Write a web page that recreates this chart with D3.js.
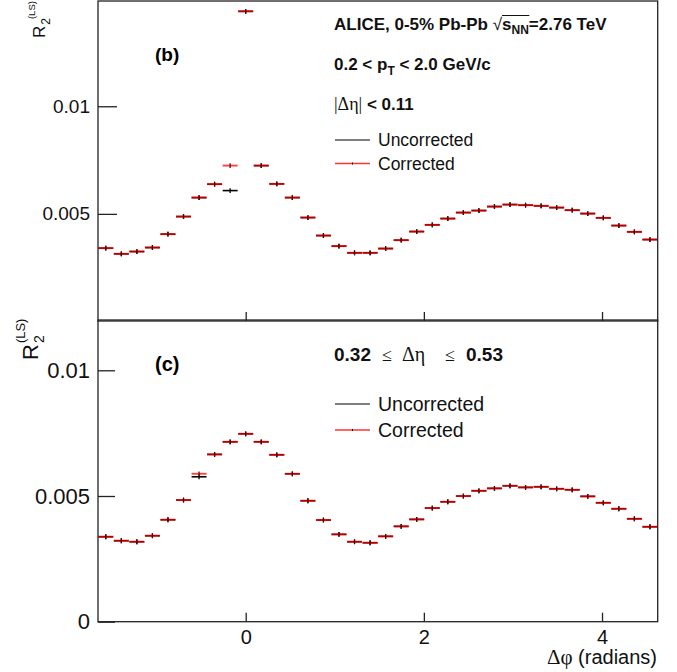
<!DOCTYPE html>
<html><head><meta charset="utf-8">
<script src="https://cdn.jsdelivr.net/npm/d3@7"></script>
<style>body{margin:0;background:#fff}svg{display:block}text{font-family:"Liberation Sans",Arial,sans-serif}</style>
</head><body><div id="c"></div>
<script>
// Δφ bin centres (radians)
const dphi = [-1.5708,-1.3963,-1.2217,-1.0472,-0.8727,-0.6981,-0.5236,-0.3491,-0.1745,0,
 0.1745,0.3491,0.5236,0.6981,0.8727,1.0472,1.2217,1.3963,1.5708,1.7453,1.9199,2.0944,
 2.2689,2.4435,2.6180,2.7925,2.9671,3.1416,3.3161,3.4907,3.6652,3.8397,4.0143,4.1888,4.3633,4.5379];
const binWidth = 0.1745;
// panel (b): |Δη| < 0.11
const bCorrected = [0.003408,0.003143,0.003250,0.003436,0.004058,0.004875,0.005757,0.006380,0.007243,0.014411,
 0.007243,0.006393,0.005757,0.004829,0.003993,0.003501,0.003190,0.003190,0.003389,0.003779,0.004179,0.004490,
 0.004782,0.005061,0.005154,0.005340,0.005432,0.005404,0.005372,0.005293,0.005172,0.005014,0.004815,0.004457,0.004165,0.003807];
const bUncorrected = [0.003408,0.003143,0.003250,0.003436,0.004058,0.004875,0.005757,0.006380,0.006082,0.014411,
 0.007243,0.006393,0.005757,0.004829,0.003993,0.003501,0.003190,0.003190,0.003389,0.003779,0.004179,0.004490,
 0.004782,0.005061,0.005154,0.005340,0.005432,0.005404,0.005372,0.005293,0.005172,0.005014,0.004815,0.004457,0.004165,0.003807];
// panel (c): 0.32 ≤ Δη ≤ 0.53
const cCorrected = [0.003379,0.003220,0.003180,0.003419,0.004055,0.004838,0.005883,0.006654,0.007155,0.007473,
 0.007155,0.006638,0.005883,0.004810,0.004043,0.003474,0.003180,0.003140,0.003395,0.003792,0.004070,0.004520,
 0.004770,0.004997,0.005207,0.005303,0.005406,0.005342,0.005366,0.005287,0.005247,0.004985,0.004730,0.004492,0.004094,0.003776];
const cUncorrected = [0.003379,0.003220,0.003180,0.003419,0.004055,0.004838,0.005764,0.006654,0.007155,0.007473,
 0.007155,0.006638,0.005883,0.004810,0.004043,0.003474,0.003180,0.003140,0.003395,0.003792,0.004070,0.004520,
 0.004770,0.004997,0.005207,0.005303,0.005406,0.005342,0.005366,0.005287,0.005247,0.004985,0.004730,0.004492,0.004094,0.003776];
const xTicks = [0,2,4];
const bYTicks = [0.005,0.01];
const cYTicks = [0,0.005,0.01];
const xDomain = [-1.658,4.625];
const bYDomain = [0,0.01489];
const cYDomain = [0,0.012];
const legendLabels = ["Uncorrected","Corrected"];

const W=677,H=672;
const svg=d3.select("#c").append("svg").attr("width",W).attr("height",H);
svg.append("rect").attr("width",W).attr("height",H).attr("fill","#fff");
const L=98,R=657.7;
const x=d3.scaleLinear().domain(xDomain).range([L,R]);
const yb=d3.scaleLinear().domain(bYDomain).range([321.5,1]);
const yc=d3.scaleLinear().domain(cYDomain).range([621.7,320]);
const serif='"Liberation Serif","Times New Roman",serif';

function panel(y, top, bottom, corr, unc, yticks, ytick, yfont, xlabels){
  const g=svg.append("g");
  g.append("rect").attr("x",L).attr("y",top).attr("width",R-L).attr("height",bottom-top)
    .attr("fill","none").attr("stroke","#222").attr("stroke-width",1.3);
  const ya=g.append("g").attr("transform",`translate(${L},0)`)
    .call(d3.axisLeft(y).tickValues(yticks).tickSizeInner(-ytick).tickSizeOuter(0).tickPadding(8)
      .tickFormat(d=>d===0?"0":String(d)));
  ya.select(".domain").remove();
  ya.selectAll("line").attr("stroke","#222").attr("stroke-width",1.3);
  ya.selectAll("text").attr("font-size",yfont).attr("fill","#111").attr("font-family","Liberation Sans, Arial, sans-serif");
  const xa=g.append("g").attr("transform",`translate(0,${bottom})`)
    .call(d3.axisBottom(x).tickValues(xTicks).tickSizeInner(-9).tickSizeOuter(0).tickPadding(8)
      .tickFormat(xlabels?d3.format("d"):()=>""));
  xa.select(".domain").remove();
  xa.selectAll("line").attr("stroke","#222").attr("stroke-width",1.3);
  xa.selectAll("text").attr("font-size",20).attr("fill","#111").attr("font-family","Liberation Sans, Arial, sans-serif");
  const hw=(x(binWidth)-x(0))/2-0.3;
  const u=g.append("g");
  dphi.forEach((d,i)=>{
    u.append("line").attr("x1",x(d)-hw).attr("x2",x(d)+hw).attr("y1",y(unc[i])).attr("y2",y(unc[i]))
      .attr("stroke","#000").attr("stroke-width",1.6);
    u.append("line").attr("x1",x(d)).attr("x2",x(d)).attr("y1",y(unc[i])-2.4).attr("y2",y(unc[i])+2.4)
      .attr("stroke","#000").attr("stroke-width",1.3);
  });
  const c=g.append("g");
  dphi.forEach((d,i)=>{
    c.append("line").attr("x1",x(d)-hw).attr("x2",x(d)+hw).attr("y1",y(corr[i])).attr("y2",y(corr[i]))
      .attr("stroke","#f00").attr("stroke-width",2).attr("stroke-opacity",0.72);
    c.append("line").attr("x1",x(d)).attr("x2",x(d)).attr("y1",y(corr[i])-2.4).attr("y2",y(corr[i])+2.4)
      .attr("stroke","#500").attr("stroke-width",1.2);
  });
  return g;
}
panel(yb,1,321,bCorrected,bUncorrected,bYTicks,19,19,false);
panel(yc,320,621.7,cCorrected,cUncorrected,cYTicks,17,22,true);

// y-axis titles
function ytitle(tx,ty,fs,subfs,supfs,stacked){
  const g=svg.append("g").attr("transform",`translate(${tx},${ty}) rotate(-90)`);
  const r=g.append("text").attr("x",0).attr("y",0).attr("font-size",fs).text("R").attr("fill","#111");
  const rw=r.node().getComputedTextLength();
  g.append("text").attr("x",rw+1).attr("y",fs*0.28).attr("font-size",subfs).text("2").attr("fill","#111");
  g.append("text").attr("x",stacked?rw+1:rw+subfs*0.556).attr("y",-fs*0.58).attr("font-size",supfs).text("(LS)").attr("fill","#111");
}
ytitle(45,38,17,12,9.5,false);
ytitle(38,360,22,14,13,true);

// x-axis title
svg.append("text").attr("x",657).attr("y",664).attr("text-anchor","end").attr("font-size",20).attr("fill","#111")
  .call(t=>{t.append("tspan").attr("font-family",serif).attr("font-size",21).text("Δφ");t.append("tspan").text(" (radians)");});

// panel labels
svg.append("text").attr("x",155).attr("y",61).attr("font-size",19).attr("font-weight","bold").text("(b)");
svg.append("text").attr("x",155).attr("y",371).attr("font-size",20).attr("font-weight","bold").text("(c)");

// annotations panel b
const t1=svg.append("text").attr("x",334).attr("y",30).attr("font-size",17).attr("font-weight","bold").attr("fill","#111");
t1.append("tspan").text("ALICE, 0-5% Pb-Pb  ");
t1.append("tspan").attr("font-weight","normal").text("√");
t1.append("tspan").text("s");
t1.append("tspan").attr("font-size",12).attr("dy",4).text("NN");
t1.append("tspan").attr("dy",-4).text("=2.76 TeV");
{
  const n=t1.node();
  const st=n.getStartPositionOfChar(19), en=n.getEndPositionOfChar(21);
  svg.append("line").attr("x1",st.x).attr("x2",en.x+0.5).attr("y1",15.5).attr("y2",15.5).attr("stroke","#111").attr("stroke-width",1);
}
const t2=svg.append("text").attr("x",334).attr("y",70).attr("font-size",17).attr("font-weight","bold").attr("fill","#111");
t2.append("tspan").text("0.2 < p");
t2.append("tspan").attr("font-size",12).attr("dy",5).text("T");
t2.append("tspan").attr("dy",-5).text(" < 2.0 GeV/c");
const t3=svg.append("text").attr("x",334).attr("y",110).attr("font-size",17).attr("fill","#111");
t3.append("tspan").attr("font-family",serif).attr("font-size",18).text("|Δη|");
t3.append("tspan").attr("font-weight","bold").text(" < 0.11");

function legend(y0,dy,fs){
  legendLabels.forEach((lab,i)=>{
    const yy=y0+i*dy;
    svg.append("line").attr("x1",335).attr("x2",370).attr("y1",yy).attr("y2",yy)
      .attr("stroke",i===0?"#000":"#f00").attr("stroke-width",i===0?1.2:1.5).attr("stroke-opacity",i===0?1:0.8);
    if(i===1) svg.append("line").attr("x1",352.5).attr("x2",352.5).attr("y1",yy-1).attr("y2",yy+1).attr("stroke","#000");
    svg.append("text").attr("x",378).attr("y",yy+fs*0.35).attr("font-size",fs).attr("fill","#111").text(lab);
  });
}
legend(140,23.5,17.5);

// annotations panel c
const t4=svg.append("text").attr("y",361).attr("font-size",19).attr("fill","#111");
t4.append("tspan").attr("x",334).attr("font-weight","bold").text("0.32");
t4.append("tspan").attr("x",382).attr("font-family",serif).attr("font-size",18).text("≤");
t4.append("tspan").attr("x",402).attr("font-family",serif).attr("font-size",20).text("Δη");
t4.append("tspan").attr("x",445).attr("font-family",serif).attr("font-size",18).text("≤");
t4.append("tspan").attr("x",466).attr("font-weight","bold").text("0.53");
legend(404,26,19.5);
</script></body></html>
